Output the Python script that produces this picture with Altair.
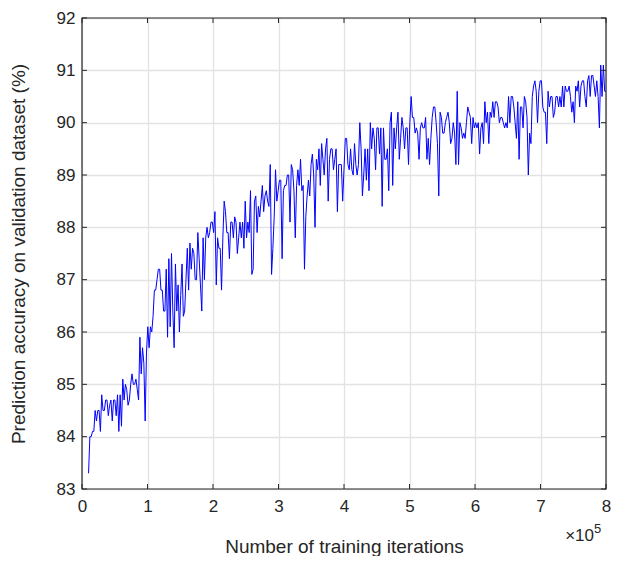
import altair as alt
import numpy as np
import pandas as pd

# Validation accuracy (%), in order of training iterations
acc_a = [83.3, 84.0, 84.0, 84.1, 84.1, 84.5, 84.3, 84.5, 84.5, 84.1,
         84.8, 84.5, 84.5, 84.7, 84.7, 84.4, 84.6, 84.7, 84.3, 84.7,
         84.7, 84.4, 84.8, 84.1, 84.8, 84.2, 85.1, 84.7, 85.0, 84.9,
         84.6, 84.7, 85.0, 85.2, 85.0, 85.0, 85.1, 84.9, 84.7, 85.9,
         85.2, 85.7, 85.4, 84.3, 85.6, 86.1, 85.7, 86.1, 86.0, 86.3,
         86.8, 86.8, 87.0, 87.2, 87.2, 86.8, 86.8, 86.4, 86.4, 87.2,
         85.9, 87.4]
acc_b = [86.1, 87.5, 86.4, 85.7, 87.3, 86.4, 86.9, 86.0, 86.7, 87.3,
         86.3, 86.4, 87.0, 87.6, 86.8, 87.7, 87.2, 87.6, 87.5, 87.0,
         87.0, 87.9, 87.4, 86.9, 86.4, 87.8, 87.0, 87.8, 88.0, 87.8,
         87.9, 88.1, 88.1, 87.9, 88.3, 86.9, 87.8, 87.6, 87.6, 86.8,
         87.8, 88.5, 88.3, 87.9, 87.9, 87.4, 88.1, 88.1, 87.8, 88.2,
         88.1, 87.5, 87.8, 88.1, 87.8, 88.1, 87.6, 88.5, 87.8, 88.1,
         87.9, 88.7, 87.1, 87.2, 88.5]
acc_c = [88.6, 87.9, 88.4, 88.2, 88.5, 88.8, 88.3, 88.6, 88.7, 88.5,
         88.4, 89.2, 87.1, 87.6, 88.2, 89.1, 88.5, 88.7, 88.9, 88.9,
         87.4, 88.7, 88.8, 88.8, 89.0, 89.0, 88.1, 89.2, 89.1, 88.7,
         87.8, 88.8, 89.1, 88.8, 89.3, 88.7, 88.8, 87.2, 88.2, 88.6,
         88.9, 88.6, 89.2, 89.4, 89.0, 88.0, 89.3, 89.1, 89.5, 88.8,
         89.6, 89.3, 89.0, 89.5, 89.7, 88.5, 89.3, 89.5, 89.5, 89.1,
         89.3, 89.5, 88.3]
acc_d = [89.2, 89.2, 89.2, 88.5, 89.1, 89.7, 89.7, 89.2, 89.1, 89.5,
         89.1, 89.0, 89.6, 89.2, 89.0, 89.2, 90.0, 89.5, 88.6, 89.0,
         89.5, 88.9, 89.5, 88.7, 90.0, 89.5, 89.9, 89.7, 89.1, 89.9,
         89.9, 89.4, 89.9, 88.4, 89.9, 89.3, 89.3, 89.5, 88.7, 90.0,
         90.2, 88.8, 89.9, 89.5, 89.9, 90.2, 89.3, 89.7, 90.1, 89.9,
         89.5, 89.9, 89.9, 89.2, 90.0, 90.5, 90.1, 90.1, 89.8, 89.9,
         89.8, 89.3, 89.9, 90.0]
acc_e = [89.9, 89.9, 90.1, 89.3, 89.7, 89.2, 89.7, 90.1, 90.3, 90.3,
         90.0, 89.6, 88.6, 90.2, 90.1, 89.8, 89.8, 90.0, 90.1, 90.2,
         90.0, 89.6, 89.7, 90.0, 89.8, 89.2, 90.6, 89.2, 90.0, 89.9,
         89.7, 89.8, 89.7, 90.0, 90.3, 90.2, 90.1, 89.6, 90.1, 89.9,
         90.0, 89.9, 90.0, 89.4, 89.9, 90.0, 89.6, 90.4, 90.0, 90.2,
         89.6, 90.2, 90.1, 90.4, 90.1, 90.4, 90.4, 90.3, 90.0, 90.1,
         90.1, 90.0, 89.9, 90.0]
acc_f = [89.9, 90.5, 90.0, 90.5, 90.5, 90.3, 90.0, 89.7, 90.4, 89.3,
         90.3, 90.3, 89.9, 90.5, 90.4, 90.1, 89.0, 89.8, 89.6, 90.5,
         90.7, 90.8, 90.6, 90.0, 90.6, 90.8, 90.8, 90.3, 90.2, 90.2,
         89.6, 90.6, 90.3, 90.5, 90.5, 90.1, 90.2, 90.5, 90.5, 90.3,
         90.5, 90.3, 90.7, 90.3, 90.7, 90.6, 90.6, 90.7, 90.5, 90.2,
         90.4, 90.0, 90.7, 90.6, 90.8, 90.3, 90.7, 90.8, 90.8, 90.5,
         90.3, 90.8, 90.9, 90.5, 90.9, 90.9, 90.7, 90.5, 90.8, 90.5,
         89.9, 91.1, 90.5, 91.1, 90.6, 90.6]

accuracy = acc_a + acc_b + acc_c + acc_d + acc_e + acc_f
first_iter, last_iter = 0.1, 8.0          # in units of 10^5 iterations
iterations = np.linspace(first_iter, last_iter, len(accuracy))

x_ticks = [0, 1, 2, 3, 4, 5, 6, 7, 8]
y_ticks = [83, 84, 85, 86, 87, 88, 89, 90, 91, 92]

df = pd.DataFrame({"iter": iterations, "acc": accuracy})
xt = pd.DataFrame({"iter": x_ticks})
yt = pd.DataFrame({"acc": y_ticks})

W, H = 524, 471
INK = "#262626"
FONT = "Liberation Sans"
TICK = 5

xs = alt.Scale(domain=[0, 8], nice=False, zero=False)
ys = alt.Scale(domain=[83, 92], nice=False, zero=False)

X_AXIS = alt.Axis(values=x_ticks, title="Number of training iterations",
                  grid=True, ticks=False, domain=False, labelPadding=9,
                  labelFlush=False, labelOverlap=False,
                  titleX=W / 2, titleY=57, titleBaseline="middle",
                  titleAlign="center")
Y_AXIS = alt.Axis(values=y_ticks,
                  title="Prediction accuracy on validation dataset (%)",
                  grid=True, ticks=False, domain=False, labelPadding=7,
                  labelFlush=False, labelOverlap=False,
                  titleX=-64, titleY=H / 2, titleAngle=270,
                  titleBaseline="middle", titleAlign="center")

line = alt.Chart(df).mark_line(color="#0000ff", strokeWidth=1, clip=True).encode(
    x=alt.X("iter:Q", scale=xs, axis=X_AXIS),
    y=alt.Y("acc:Q", scale=ys, axis=Y_AXIS),
)

tick_bottom = alt.Chart(xt).mark_rule(color=INK, strokeWidth=1).encode(
    x=alt.X("iter:Q", scale=xs, axis=X_AXIS), y=alt.value(H), y2=alt.value(H - TICK))
tick_top = alt.Chart(xt).mark_rule(color=INK, strokeWidth=1).encode(
    x=alt.X("iter:Q", scale=xs, axis=X_AXIS), y=alt.value(0), y2=alt.value(TICK))
tick_left = alt.Chart(yt).mark_rule(color=INK, strokeWidth=1).encode(
    y=alt.Y("acc:Q", scale=ys, axis=Y_AXIS), x=alt.value(0), x2=alt.value(TICK))
tick_right = alt.Chart(yt).mark_rule(color=INK, strokeWidth=1).encode(
    y=alt.Y("acc:Q", scale=ys, axis=Y_AXIS), x=alt.value(W), x2=alt.value(W - TICK))

frame = alt.Chart(pd.DataFrame({"k": [0]})).mark_rect(
    fillOpacity=0, stroke=INK, strokeWidth=1.2).encode(
    x=alt.value(0), x2=alt.value(W), y=alt.value(0), y2=alt.value(H))

mult = alt.Chart(pd.DataFrame({"t": ["\u00d710"]})).mark_text(
    align="right", baseline="alphabetic", fontSize=17, font=FONT, color=INK).encode(
    x=alt.value(W - 12), y=alt.value(H + 52), text="t:N")
expo = alt.Chart(pd.DataFrame({"t": ["5"]})).mark_text(
    align="left", baseline="alphabetic", fontSize=13, font=FONT, color=INK).encode(
    x=alt.value(W - 12), y=alt.value(H + 44), text="t:N")

chart = alt.layer(line, tick_bottom, tick_top, tick_left, tick_right, frame, mult, expo).properties(
    width=W, height=H,
    autosize=alt.AutoSizeParams(type="none"),
    padding={"left": 74, "top": 10, "right": 6, "bottom": 67},
).configure_view(stroke=None).configure_axis(
    labelFont=FONT, labelFontSize=17, labelColor=INK,
    titleFont=FONT, titleFontSize=19, titleFontWeight="normal", titleColor=INK,
    gridColor="#e3e3e3", gridWidth=1.3,
)

chart.save("out.html", embed_options={"renderer": "svg", "actions": False})
